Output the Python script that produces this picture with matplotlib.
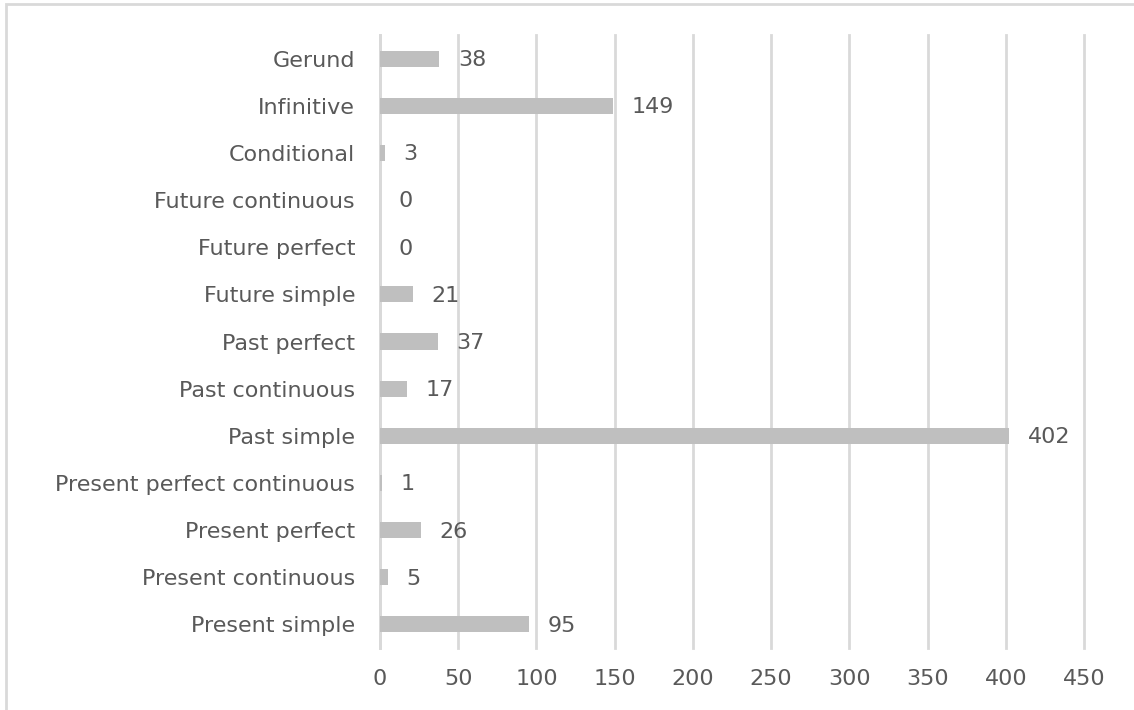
import matplotlib
matplotlib.use("Agg")
import matplotlib.pyplot as plt
import numpy as np

# donnees (de bas en haut)
categories = [
    "Present simple", "Present continuous", "Present perfect",
    "Present perfect continuous", "Past simple", "Past continuous",
    "Past perfect", "Future simple", "Future perfect",
    "Future continuous", "Conditional", "Infinitive", "Gerund",
]
values = [95, 5, 26, 1, 402, 17, 37, 21, 0, 0, 3, 149, 38]
x_ticks = [0, 50, 100, 150, 200, 250, 300, 350, 400, 450]

bar_color = "#BFBFBF"
grid_color = "#D9D9D9"
text_color = "#595959"

plt.rcParams['font.family'] = ['DejaVu Sans']
fs = 16

fig = plt.figure(figsize=(11.34, 7.10), dpi=100)
ax = fig.add_axes([380 / 1134, 1 - 648 / 710, 704 / 1134, 613 / 710])

y = np.arange(len(categories))
ax.barh(y, values, height=0.34, color=bar_color, zorder=3)

# etiquettes de valeur a droite des barres
for yi, v in zip(y, values):
    ax.text(v + 12, yi - 0.03, str(v), va='center', ha='left', fontsize=fs,
            color=text_color)

ax.set_xlim(0, 450)
ax.set_ylim(-0.5, len(categories) - 0.5)
ax.set_yticks(y)
ax.set_yticklabels(categories, fontsize=fs, color=text_color)
ax.set_xticks(x_ticks)
ax.set_xticklabels([str(t) for t in x_ticks], fontsize=fs, color=text_color)
ax.tick_params(axis='both', length=0)
ax.tick_params(axis='x', pad=15)
ax.tick_params(axis='y', pad=18)

ax.grid(axis='x', color=grid_color, linewidth=2, zorder=0)
for l in ax.get_xgridlines():
    l.set_clip_on(False)
for s in ['top', 'right', 'bottom']:
    ax.spines[s].set_visible(False)
ax.spines['left'].set_color(grid_color)
ax.spines['left'].set_linewidth(2)
ax.set_axisbelow(True)

# cadre du graphique
cadre = plt.Rectangle((6 / 1134, -0.05), 1.2, 1 - 4 / 710 + 0.05,
                      transform=fig.transFigure, fill=False,
                      edgecolor="#D9D9D9", linewidth=2)
fig.patches.append(cadre)

fig.savefig("out.png", dpi=100)
